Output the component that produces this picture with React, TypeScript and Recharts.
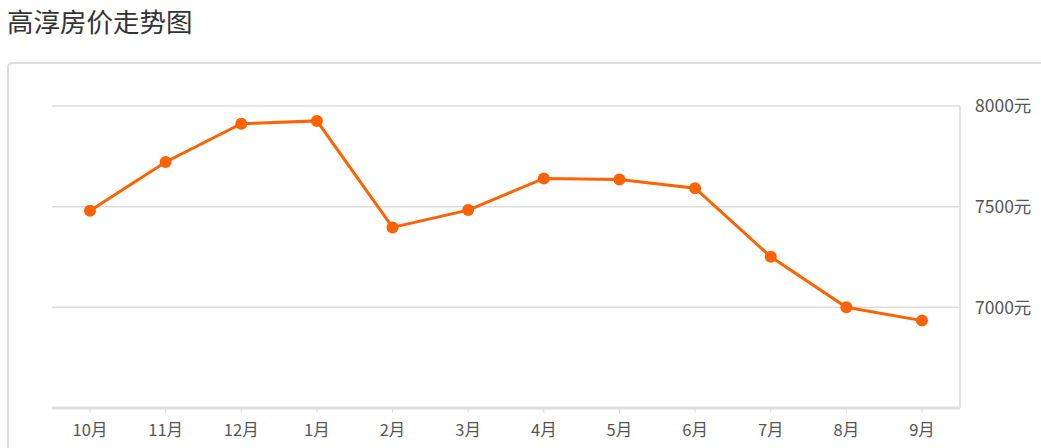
import { CartesianGrid, Line, LineChart, XAxis, YAxis } from "recharts";

const months = ["10月", "11月", "12月", "1月", "2月", "3月", "4月", "5月", "6月", "7月", "8月", "9月"];
const prices = [7480, 7722, 7912, 7926, 7397, 7483, 7640, 7635, 7592, 7251, 7000, 6934];
const priceTicks = [7000, 7500, 8000];

const FONT = '"Noto Sans CJK SC", "Noto Sans", sans-serif';
const ORANGE = "#ff6200";

export default function App() {
  const data = months.map((m, i) => ({ month: m, price: prices[i] }));

  return (
    <div
      style={{
        position: "absolute",
        left: 0,
        top: 0,
        width: 1041,
        height: 448,
        overflow: "hidden",
        background: "#fff",
        fontFamily: FONT
      }}
    >
      <div
        style={{
          position: "absolute",
          left: 7,
          top: 1,
          fontSize: 26.5,
          lineHeight: "normal",
          color: "#333",
          whiteSpace: "nowrap"
        }}
      >
        高淳房价走势图
      </div>

      <div
        style={{
          position: "absolute",
          left: 7,
          top: 62,
          width: 1100,
          height: 500,
          border: "2px solid #ddd",
          borderRadius: 5,
          boxSizing: "border-box"
        }}
      />

      <div style={{ position: "absolute", left: 0, top: 0 }}>
        <LineChart
          width={1041}
          height={448}
          data={data}
          margin={{ top: 106, right: 0, bottom: 0, left: 52 }}
        >
          <CartesianGrid vertical={false} stroke="#ddd" strokeWidth={1.5} />
          <XAxis
            dataKey="month"
            padding={{ left: 38, right: 38 }}
            axisLine={{ stroke: "#ddd", strokeWidth: 3 }}
            tickLine={{ stroke: "#ddd" }}
            tickSize={5}
            tickMargin={11}
            tick={{ fill: "#555", fontSize: 16.5, fontFamily: FONT }}
            height={40}
          />
          <YAxis
            orientation="right"
            domain={[6500, 8000]}
            ticks={priceTicks}
            width={81}
            axisLine={{ stroke: "#ddd", strokeWidth: 1.5 }}
            tickLine={false}
            tickSize={0}
            tickMargin={15}
            tick={{ fill: "#555", fontSize: 17.5, fontFamily: FONT }}
            tickFormatter={(v: number) => `${v}元`}
          />
          <Line
            type="linear"
            dataKey="price"
            stroke={ORANGE}
            strokeWidth={3}
            dot={{ r: 6, fill: ORANGE, stroke: "none" }}
            activeDot={false}
            isAnimationActive={false}
          />
        </LineChart>
      </div>
    </div>
  );
}
